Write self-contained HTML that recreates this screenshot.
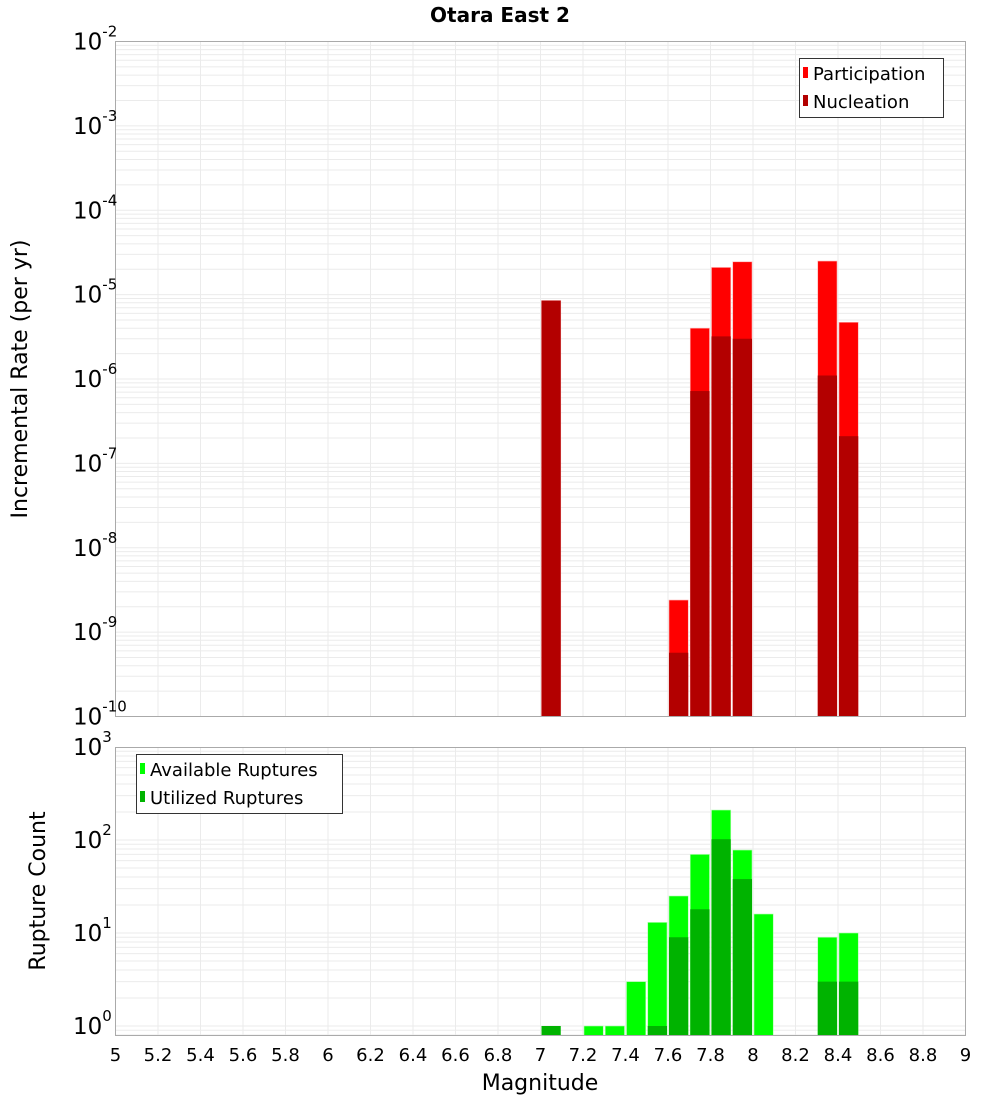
<!DOCTYPE html>
<html><head><meta charset="utf-8"><style>
body{margin:0;background:#fff;}
svg{display:block;font-family:"DejaVu Sans","Liberation Sans",sans-serif;}
</style></head><body>
<svg id="chart" width="1000" height="1100" xmlns="http://www.w3.org/2000/svg"></svg>
<script>
const bins = [7.05,7.15,7.25,7.35,7.45,7.55,7.65,7.75,7.85,7.95,8.05,8.35,8.45];
const participation = [8.5e-6,0,0,0,0,0,2.4e-9,4.0e-6,2.1e-5,2.45e-5,0,2.5e-5,4.7e-6];
const nucleation = [8.5e-6,0,0,0,0,0,5.7e-10,7.2e-7,3.2e-6,3.0e-6,0,1.1e-6,2.1e-7];
const available = [0,0,1,1,3,13,25,70,210,78,16,9,10];
const utilized = [1,0,0,0,0,1,9,18,102,38,0,3,3];
const xTicks = [5,5.2,5.4,5.6,5.8,6,6.2,6.4,6.6,6.8,7,7.2,7.4,7.6,7.8,8,8.2,8.4,8.6,8.8,9];
const topExps = [-2,-3,-4,-5,-6,-7,-8,-9,-10];
const botExps = [3,2,1,0];

const NS="http://www.w3.org/2000/svg";
const svg=document.getElementById('chart');
function el(tag,attrs,parent,text){const e=document.createElementNS(NS,tag);for(const k in attrs)e.setAttribute(k,attrs[k]);if(text!==undefined)e.textContent=text;(parent||svg).appendChild(e);return e;}
const X0=115.5,X1=965.5;
const x=v=>X0+(v-5)*(X1-X0)/4;
const T0=41.5,T1=716.5;
const yTop=v=>T0+(-2-Math.log10(v))*(T1-T0)/8;
const B0=747.5,B1=1035.5;
const yBot=v=>1026-Math.log10(v)*93;

function grid(g,y0,y1,lo,hi,yf){
  for(let e=lo;e<hi;e++){for(let m=1;m<10;m++){const yy=yf(m*Math.pow(10,e));if(yy>=y0&&yy<=y1)el('line',{x1:X0,x2:X1,y1:yy,y2:yy,stroke:'#ebebeb','stroke-width':1},g);}}
  for(const t of xTicks){el('line',{x1:x(t),x2:x(t),y1:y0,y2:y1,stroke:'#ebebeb','stroke-width':1},g);}
}
// title
const title=el('text',{x:500,y:22,'text-anchor':'middle','font-size':20,'font-weight':'bold'},svg,'Otara East 2');


// top panel
const gt=el('g',{});
grid(gt,T0,T1,-10,-1,yTop);
const bw=(X1-X0)/40;
bins.forEach((b,i)=>{
  const xl=x(b)-bw/2+1;
  if(participation[i]>0){const r=el('rect',{x:xl,y:yTop(participation[i]),width:bw-2,height:T1-yTop(participation[i]),fill:'#ff0000',stroke:'#ffb0b0','stroke-width':0.6},gt);
    }
  if(nucleation[i]>0){const r=el('rect',{x:xl,y:yTop(nucleation[i]),width:bw-2,height:T1-yTop(nucleation[i]),fill:'#b30000'},gt);
    }
});
el('rect',{x:X0,y:T0,width:X1-X0,height:T1-T0,fill:'none',stroke:'#aaaaaa'},gt);
topExps.forEach(e=>{const t=el('text',{x:73,y:yTop(Math.pow(10,e))+8,'font-size':23},gt);
  
  el('tspan',{},t,'10');el('tspan',{dy:-13,'font-size':15},t,String(e));});
const yt=el('text',{transform:'translate(27,379) rotate(-90)','text-anchor':'middle','font-size':22},svg,'Incremental Rate (per yr)');

const lg=el('g',{});
el('rect',{x:799.5,y:58.5,width:144,height:59,fill:'#fff',stroke:'#333'},lg);
el('rect',{x:803,y:67,width:5,height:11,fill:'#ff0000'},lg);
el('text',{x:813,y:80,'font-size':18},lg,'Participation');
el('rect',{x:803,y:95,width:5,height:11,fill:'#b30000'},lg);
el('text',{x:813,y:108,'font-size':18},lg,'Nucleation');

// bottom panel
const gb=el('g',{});
grid(gb,B0,B1,-1,3,yBot);
bins.forEach((b,i)=>{
  const xl=x(b)-bw/2+1;
  if(available[i]>0){const r=el('rect',{x:xl,y:yBot(available[i]),width:bw-2,height:B1-yBot(available[i]),fill:'#00ff00',stroke:'#b0ffb0','stroke-width':0.6},gb);
    }
  if(utilized[i]>0){const r=el('rect',{x:xl,y:yBot(utilized[i]),width:bw-2,height:B1-yBot(utilized[i]),fill:'#00b300'},gb);
    }
});
el('rect',{x:X0,y:B0,width:X1-X0,height:B1-B0,fill:'none',stroke:'#aaaaaa'},gb);
botExps.forEach(e=>{const t=el('text',{x:73,y:yBot(Math.pow(10,e))+8,'font-size':23},gb);
  
  el('tspan',{},t,'10');el('tspan',{dy:-13,'font-size':15},t,String(e));});
const yb=el('text',{transform:'translate(45,891) rotate(-90)','text-anchor':'middle','font-size':22},svg,'Rupture Count');

const lg2=el('g',{});
el('rect',{x:136.5,y:754.5,width:206,height:59,fill:'#fff',stroke:'#333'},lg2);
el('rect',{x:140,y:763,width:5,height:11,fill:'#00ff00'},lg2);
el('text',{x:150,y:776,'font-size':18},lg2,'Available Ruptures');
el('rect',{x:140,y:791,width:5,height:11,fill:'#00b300'},lg2);
el('text',{x:150,y:804,'font-size':18},lg2,'Utilized Ruptures');

xTicks.forEach(t=>{const tx=el('text',{x:x(t),y:1061,'text-anchor':'middle','font-size':18},svg,String(t));
  });
const xt=el('text',{x:540,y:1090,'text-anchor':'middle','font-size':22},svg,'Magnitude');

</script>
</body></html>
